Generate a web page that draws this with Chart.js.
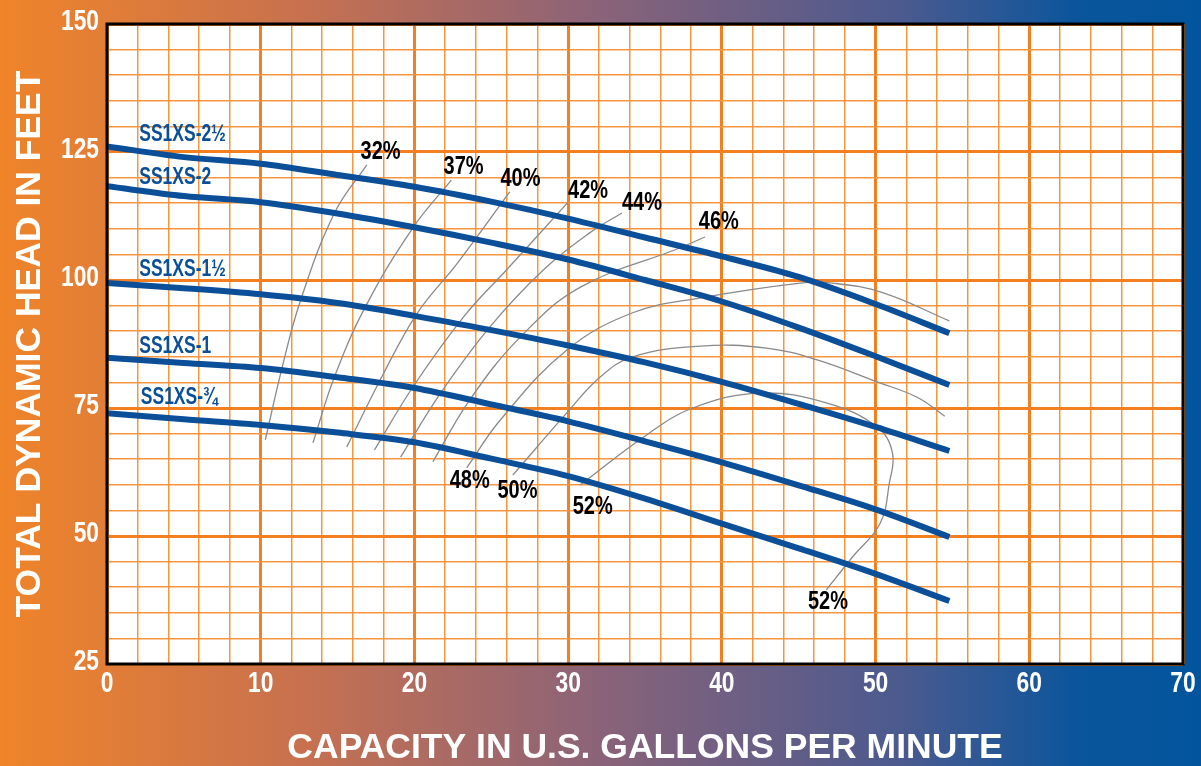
<!DOCTYPE html>
<html>
<head>
<meta charset="utf-8">
<script src="https://cdn.jsdelivr.net/npm/chart.js@4/dist/chart.umd.min.js"></script>
<style>
    html, body { margin: 0; padding: 0; background: #fff; }
    canvas { display: block; }
</style>
</head>
<body>
<canvas id="pumpChart" width="1201" height="766"></canvas>
<script>
// capacity in US gpm, head in feet
const capacity = [0, 5, 10, 15, 20, 25, 30, 35, 40, 45, 50, 54.8];

const headSS2Half  = [126.1, 124.0, 122.7, 120.5, 118.2, 115.3, 112.0, 108.3, 104.6, 100.6, 95.3, 89.6];
const headSS2      = [118.3, 116.4, 115.2, 113.0, 110.3, 107.3, 104.0, 100.0, 95.8, 90.7, 85.1, 79.5];
const headSS1Half  = [99.4, 98.4, 97.2, 95.5, 93.0, 90.2, 87.2, 83.9, 80.1, 75.8, 71.3, 66.6];
const headSS1      = [84.8, 83.8, 82.8, 81.0, 78.9, 75.7, 72.4, 68.5, 64.4, 59.9, 55.2, 49.8];
const headSS3Qtr   = [74.0, 72.8, 71.7, 70.2, 68.3, 65.1, 61.7, 57.3, 52.4, 47.6, 42.6, 37.3];

const pumpNames   = ['SS1XS-2½', 'SS1XS-2', 'SS1XS-1½', 'SS1XS-1', 'SS1XS-¾'];
const pumpHeads   = [headSS2Half, headSS2, headSS1Half, headSS1, headSS3Qtr];
const pumpLabelAt = [[2.1, 128.3], [2.1, 119.9], [2.1, 102.1], [2.1, 86.9], [2.2, 77.0]];

// efficiency lines, [gpm, head]
const eff32 = [[10.3, 68.8], [11.4, 83.0], [12.6, 96.1], [14.8, 113.1], [16.9, 122.5]];
const eff37 = [[13.4, 68.2], [14.8, 81.1], [16.8, 94.7], [19.9, 110.2], [22.4, 119.5]];
const eff40 = [[15.6, 67.4], [18.0, 81.8], [20.2, 93.6], [22.8, 103.3], [26.2, 117.2]];
const eff42 = [[17.4, 66.8], [19.9, 79.1], [23.2, 92.8], [26.0, 102.0], [30.0, 115.2]];
const eff44 = [[19.1, 65.4], [21.7, 77.9], [24.9, 90.8], [28.4, 102.0], [31.4, 109.2], [33.5, 113.1]];
const eff46 = [[21.2, 64.5], [23.6, 76.6], [26.9, 88.9], [30.8, 98.6], [37.3, 106.3], [38.9, 108.4]];
const eff48 = [[23.4, 63.3], [25.6, 72.7], [29.9, 86.3], [34.2, 93.6], [38.6, 96.5], [45.1, 99.4], [47.2, 99.4], [50.5, 97.5], [54.8, 92.0]];
const eff50 = [[26.4, 61.9], [29.9, 74.0], [32.1, 81.1], [34.2, 85.0], [38.6, 87.1], [42.9, 86.7], [46.2, 84.4], [50.1, 80.1], [52.7, 77.1], [54.5, 73.4]];
const eff52 = [[30.8, 60.0], [34.9, 69.3], [38.1, 75.0], [42.5, 77.9], [46.8, 76.0], [50.1, 71.3], [51.1, 66.2], [50.9, 60.4], [50.3, 52.5], [48.5, 45.9], [46.8, 39.5]];

const effLines   = [eff32, eff37, eff40, eff42, eff44, eff46, eff48, eff50, eff52];
const effNames   = ['32%', '37%', '40%', '42%', '44%', '46%', '48%', '50%', '52%', '52%'];
const effLabelAt = [[17.8, 125.0], [23.2, 122.0], [26.9, 119.7], [31.3, 117.4], [34.8, 115.0], [39.8, 111.3],
                    [23.6, 60.8], [26.7, 58.8], [31.6, 55.6], [46.9, 37.0]];

const xTickLabels = [0, 10, 20, 30, 40, 50, 60, 70];
const yTickLabels = [25, 50, 75, 100, 125, 150];

const sans     = "'Liberation Sans', Arial, sans-serif";
const pumpBlue = '#0A4F98';

const datasets = [];

for (let i = 0; i < pumpHeads.length; ++i) {
    datasets.push({
        label: pumpNames[i],
        data: capacity.map((c, j) => ({x: c, y: pumpHeads[i][j]})),
        borderColor: pumpBlue,
        borderWidth: 6,
        borderCapStyle: 'butt',
        pointRadius: 0,
        cubicInterpolationMode: 'monotone',
        order: 1
    });
}

for (let i = 0; i < effLines.length; ++i) {
    datasets.push({
        label: 'eff ' + i,
        data: effLines[i].map((p) => ({x: p[0], y: p[1]})),
        borderColor: '#8a8a8a',
        borderWidth: 1.3,
        pointRadius: 0,
        tension: 0.4,
        order: 2
    });
}

// condensed text: squeeze a normal bold face horizontally
function narrowText (ctx, text, x, y, size, squeeze, align)
{
    ctx.save();
    ctx.font         = 'bold ' + size + 'px ' + sans;
    ctx.textAlign    = align;
    ctx.textBaseline = 'middle';
    ctx.translate(x, y);
    ctx.scale(squeeze, 1);
    ctx.fillText(text, 0, 0);
    ctx.restore();
}

const backdrop = {
    id: 'backdrop',
    beforeDraw (chart)
    {
        const ctx  = chart.ctx;
        const area = chart.chartArea;
        const grad = ctx.createLinearGradient(0, 0, chart.width, 0);

        grad.addColorStop(0, '#EF8429');
        grad.addColorStop(0.25, '#C8714F');
        grad.addColorStop(0.5, '#8A6379');
        grad.addColorStop(0.75, '#4B5A8F');
        grad.addColorStop(0.9, '#0A559C');
        grad.addColorStop(1, '#02559D');

        ctx.save();
        ctx.fillStyle = grad;
        ctx.fillRect(0, 0, chart.width, chart.height);
        ctx.fillStyle = '#ffffff';
        ctx.fillRect(area.left, area.top, area.right - area.left, area.bottom - area.top);
        ctx.restore();
    }
};

const annotate = {
    id: 'annotate',
    afterDatasetsDraw (chart)
    {
        const ctx  = chart.ctx;
        const area = chart.chartArea;
        const xs   = chart.scales.x;
        const ys   = chart.scales.y;

        ctx.save();
        ctx.strokeStyle = '#000';
        ctx.lineWidth   = 3;
        ctx.strokeRect(area.left, area.top, area.right - area.left, area.bottom - area.top);

        ctx.fillStyle = pumpBlue;
        for (let i = 0; i < pumpNames.length; ++i) {
            narrowText(ctx, pumpNames[i], xs.getPixelForValue(pumpLabelAt[i][0]), ys.getPixelForValue(pumpLabelAt[i][1]), 23, 0.76, 'left');
        }

        ctx.fillStyle = '#000';
        for (let i = 0; i < effNames.length; ++i) {
            narrowText(ctx, effNames[i], xs.getPixelForValue(effLabelAt[i][0]), ys.getPixelForValue(effLabelAt[i][1]), 25, 0.8, 'center');
        }

        // axis tick labels, placed on the scales' own ticks
        ctx.fillStyle = '#ffffff';
        xs.ticks.forEach((t) => {
            if (xTickLabels.includes(t.value)) {
                narrowText(ctx, String(t.value), xs.getPixelForValue(t.value), area.bottom + 20, 30, 0.76, 'center');
            }
        });
        ys.ticks.forEach((t) => {
            if (yTickLabels.includes(t.value)) {
                narrowText(ctx, String(t.value), area.left - 8, ys.getPixelForValue(t.value) - 2, 30, 0.76, 'right');
            }
        });
        ctx.restore();
    }
};

const isMajor = (c, step) => c.tick && c.tick.value % step === 0;

new Chart(document.getElementById('pumpChart').getContext('2d'), {
    type: 'line',
    data: {datasets: datasets},
    plugins: [backdrop, annotate],
    options: {
        responsive: false,
        animation: false,
        layout: {padding: {top: 24, right: 18, left: 0, bottom: 0}},
        plugins: {legend: {display: false}, tooltip: {enabled: false}},
        scales: {
            x: {
                type: 'linear',
                min: 0,
                max: 70,
                afterFit: (s) => { s.height = 102; },
                border: {display: false},
                grid: {
                    drawTicks: false,
                    color: (c) => (isMajor(c, 10) ? '#F47F20' : '#F7963F'),
                    lineWidth: (c) => (isMajor(c, 10) ? 3 : 1.5)
                },
                ticks: {
                    display: false,
                    stepSize: 2,
                    autoSkip: false
                },
                title: {
                    display: true,
                    text: 'CAPACITY IN U.S. GALLONS PER MINUTE',
                    color: '#ffffff',
                    padding: {top: 0, bottom: 0},
                    font: {family: sans, size: 35.5, weight: 'bold', lineHeight: 1}
                }
            },
            y: {
                type: 'linear',
                min: 25,
                max: 150,
                afterFit: (s) => { s.width = 107; },
                border: {display: false},
                grid: {
                    drawTicks: false,
                    color: (c) => (isMajor(c, 25) ? '#F47F20' : '#F7963F'),
                    lineWidth: (c) => (isMajor(c, 25) ? 3 : 1.5)
                },
                ticks: {
                    display: false,
                    stepSize: 5,
                    autoSkip: false
                },
                title: {
                    display: true,
                    text: 'TOTAL DYNAMIC HEAD IN FEET',
                    color: '#ffffff',
                    padding: {top: 12, bottom: 0},
                    font: {family: sans, size: 35.5, weight: 'bold', lineHeight: 1}
                }
            }
        }
    }
});
</script>
</body>
</html>
